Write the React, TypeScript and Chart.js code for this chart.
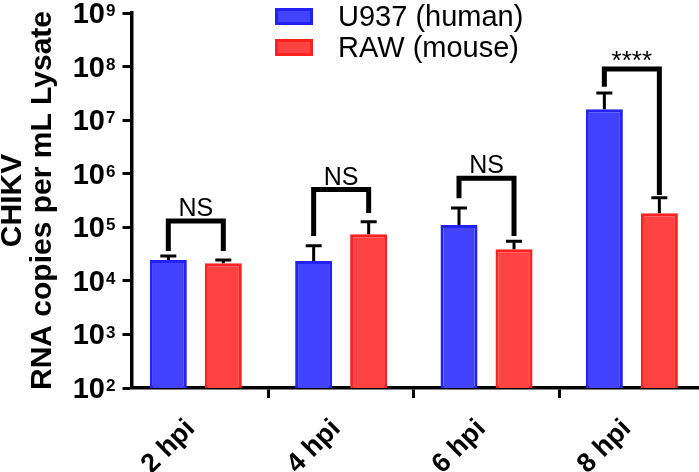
import React, { useEffect, useRef } from 'react';
import { Chart, registerables } from 'chart.js';

Chart.register(...registerables);

const categories = ['2 hpi', '4 hpi', '6 hpi', '8 hpi'];
const seriesNames = ['U937 (human)', 'RAW (mouse)'];
const u937Mean = [2.45e4, 2.35e4, 1.1e5, 1.6e7];
const u937Upper = [2.9e4, 4.5e4, 2.3e5, 3.2e7];
const rawMean = [2.13e4, 7.4e4, 3.9e4, 1.82e5];
const rawUpper = [2.45e4, 1.27e5, 5.5e4, 3.57e5];
const sigLabels = ['NS', 'NS', 'NS', '****'];
const bracketTop = [1.31e5, 5.07e5, 8.2e5, 9.0e7];
const bracketLeftEnd = [3.6e4, 6.9e4, 3.47e5, 4.2e7];
const bracketRightEnd = [3.6e4, 1.85e5, 6.9e4, 4.0e5];
const yExponents = [2, 3, 4, 5, 6, 7, 8, 9];
const yTitleLines = ['CHIKV', 'RNA copies per mL Lysate'];

const FONT = 'Liberation Sans, Arial, Helvetica, sans-serif';
const BLUE_FILL = 'rgb(66,66,255)';
const BLUE_EDGE = 'rgb(34,34,245)';
const RED_FILL = 'rgb(255,66,66)';
const RED_EDGE = 'rgb(255,32,32)';

const upperByDataset = [u937Upper, rawUpper];

const errorBarPlugin = {
  id: 'errorBars',
  afterDatasetsDraw(chart: any) {
    const ctx = chart.ctx;
    const y = chart.scales.y;
    ctx.save();
    ctx.strokeStyle = '#000';
    ctx.lineWidth = 3;
    chart.data.datasets.forEach((_: any, di: number) => {
      const meta = chart.getDatasetMeta(di);
      meta.data.forEach((bar: any, j: number) => {
        const yt = y.getPixelForValue(upperByDataset[di][j]);
        ctx.beginPath();
        ctx.moveTo(bar.x, bar.y);
        ctx.lineTo(bar.x, yt);
        ctx.moveTo(bar.x - 8, yt);
        ctx.lineTo(bar.x + 8, yt);
        ctx.stroke();
      });
    });
    ctx.restore();
  },
};

const bracketPlugin = {
  id: 'brackets',
  afterDatasetsDraw(chart: any) {
    const ctx = chart.ctx;
    const y = chart.scales.y;
    const m0 = chart.getDatasetMeta(0);
    const m1 = chart.getDatasetMeta(1);
    ctx.save();
    ctx.strokeStyle = '#000';
    ctx.fillStyle = '#000';
    ctx.lineWidth = 5;
    ctx.lineJoin = 'miter';
    ctx.lineCap = 'butt';
    categories.forEach((_, j) => {
      const xl = m0.data[j].x;
      const xr = m1.data[j].x;
      const yt = y.getPixelForValue(bracketTop[j]);
      ctx.beginPath();
      ctx.moveTo(xl, y.getPixelForValue(bracketLeftEnd[j]));
      ctx.lineTo(xl, yt);
      ctx.lineTo(xr, yt);
      ctx.lineTo(xr, y.getPixelForValue(bracketRightEnd[j]));
      ctx.stroke();
      const star = sigLabels[j].startsWith('*');
      ctx.font = `${star ? 26 : 25}px ${FONT}`;
      ctx.textAlign = 'center';
      ctx.textBaseline = 'alphabetic';
      ctx.fillText(sigLabels[j], (xl + xr) / 2, yt - (star ? 0 : 5));
    });
    ctx.restore();
  },
};

const yLabelPlugin = {
  id: 'yLabels',
  afterDraw(chart: any) {
    const ctx = chart.ctx;
    const y = chart.scales.y;
    ctx.save();
    ctx.fillStyle = '#000';
    yExponents.forEach((e) => {
      const py = y.getPixelForValue(Math.pow(10, e));
      ctx.font = `bold 29px ${FONT}`;
      ctx.textAlign = 'right';
      ctx.textBaseline = 'middle';
      ctx.fillText('10', 105, py + 2);
      ctx.font = `bold 17px ${FONT}`;
      ctx.textAlign = 'left';
      ctx.textBaseline = 'top';
      ctx.fillText(String(e), 106, py - 10);
    });
    ctx.restore();
  },
};

const legendPlugin = {
  id: 'customLegend',
  afterDraw(chart: any) {
    const ctx = chart.ctx;
    ctx.save();
    chart.data.datasets.forEach((ds: any, i: number) => {
      const top = 8 + i * 31;
      ctx.fillStyle = ds.backgroundColor;
      ctx.fillRect(275, top, 38, 17);
      ctx.strokeStyle = ds.borderColor;
      ctx.lineWidth = 3;
      ctx.strokeRect(276.5, top + 1.5, 35, 14);
      ctx.fillStyle = '#000';
      ctx.font = `29px ${FONT}`;
      ctx.textAlign = 'left';
      ctx.textBaseline = 'middle';
      ctx.fillText(ds.label, 338, top + 9.5);
    });
    ctx.restore();
  },
};

export default function App() {
  const ref = useRef<HTMLCanvasElement | null>(null);

  useEffect(() => {
    if (!ref.current) return;
    const chart = new Chart(ref.current, {
      type: 'bar',
      data: {
        datasets: [
          {
            label: seriesNames[0],
            data: u937Mean.map((v, i) => ({ x: i, y: v })),
            backgroundColor: BLUE_FILL,
            borderColor: BLUE_EDGE,
            borderWidth: 3,
            categoryPercentage: 0.757,
            barPercentage: 0.673,
          },
          {
            label: seriesNames[1],
            data: rawMean.map((v, i) => ({ x: i, y: v })),
            backgroundColor: RED_FILL,
            borderColor: RED_EDGE,
            borderWidth: 3,
            categoryPercentage: 0.757,
            barPercentage: 0.673,
          },
        ],
      },
      options: {
        responsive: false,
        animation: false,
        devicePixelRatio: 1,
        layout: { padding: { top: 13, left: 0, right: 0, bottom: 0 } },
        plugins: {
          legend: { display: false },
          tooltip: { enabled: false },
          title: { display: false },
        },
        scales: {
          x: {
            type: 'linear',
            min: -0.4425,
            max: 3.462,
            offset: false,
            afterBuildTicks(scale: any) {
              scale.ticks = categories.map((_, i) => ({ value: i }));
            },
            afterFit(scale: any) {
              scale.height = 84;
              scale.paddingLeft = 0;
              scale.paddingRight = 0;
            },
            grid: {
              display: true,
              drawOnChartArea: false,
              drawTicks: true,
              tickLength: 10,
              tickWidth: 3,
              tickColor: '#000',
            },
            border: { display: true, color: '#000', width: 3.5 },
            ticks: {
              autoSkip: false,
              minRotation: 45,
              maxRotation: 45,
              padding: 15,
              labelOffset: -5,
              color: '#000',
              font: { family: FONT, size: 27, weight: 'bold' },
              callback: (v: any) => categories[v] ?? '',
            },
          },
          y: {
            type: 'logarithmic',
            min: 100,
            max: 1e9,
            afterBuildTicks(scale: any) {
              scale.ticks = yExponents.map((e) => ({ value: Math.pow(10, e) }));
            },
            afterFit(scale: any) {
              scale.width = 131.5;
              scale.paddingTop = 0;
              scale.paddingBottom = 0;
            },
            grid: {
              display: true,
              drawOnChartArea: false,
              drawTicks: true,
              tickLength: 9,
              tickWidth: 3,
              tickColor: '#000',
            },
            border: { display: true, color: '#000', width: 3.5 },
            ticks: { display: false },
            title: {
              display: true,
              text: yTitleLines,
              color: '#000',
              font: { family: FONT, size: 30, weight: 'bold', lineHeight: 1 },
              padding: { top: -2, bottom: 0 },
            },
          },
        },
      },
      plugins: [errorBarPlugin, bracketPlugin, yLabelPlugin, legendPlugin],
    } as any);
    return () => chart.destroy();
  }, []);

  return (
    <div style={{ position: 'absolute', left: 0, top: 0, width: 699, height: 472, background: '#fff' }}>
      <canvas ref={ref} width={699} height={472} style={{ display: 'block' }} />
    </div>
  );
}
